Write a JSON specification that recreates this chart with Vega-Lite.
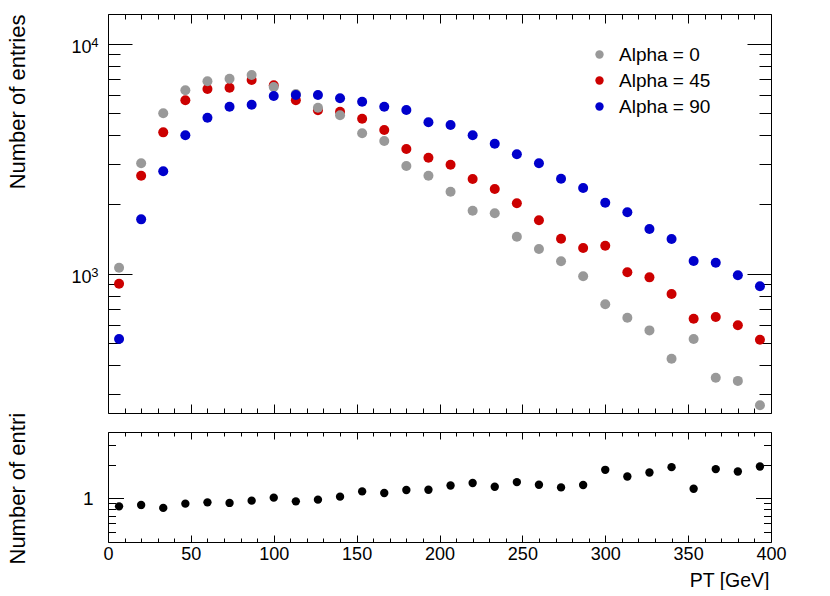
{
  "$schema": "https://vega.github.io/schema/vega-lite/v6.json",
  "autosize": {"type": "pad"},
  "padding": {"left": 5, "top": 13, "right": 0, "bottom": 0},
  "bounds": "flush",
  "spacing": 19,
  "background": "white",
  "config": {
    "view": {"stroke": null},
    "font": "Liberation Sans",
    "axis": {
      "grid": false,
      "domainColor": "black",
      "domainWidth": 1,
      "tickColor": "black",
      "tickWidth": 1,
      "labelFont": "Liberation Sans",
      "labelFontSize": 18,
      "labelColor": "black",
      "titleFont": "Liberation Sans",
      "titleColor": "black",
      "titleFontWeight": "normal"
    }
  },
  "datasets": {
    "hist": [
      {"pt": 6.67, "alpha": "Alpha = 45", "n": 905},
      {"pt": 20, "alpha": "Alpha = 45", "n": 2668},
      {"pt": 33.33, "alpha": "Alpha = 45", "n": 4117},
      {"pt": 46.67, "alpha": "Alpha = 45", "n": 5674},
      {"pt": 60, "alpha": "Alpha = 45", "n": 6353},
      {"pt": 73.33, "alpha": "Alpha = 45", "n": 6437},
      {"pt": 86.67, "alpha": "Alpha = 45", "n": 6953},
      {"pt": 100, "alpha": "Alpha = 45", "n": 6596},
      {"pt": 113.33, "alpha": "Alpha = 45", "n": 5674},
      {"pt": 126.67, "alpha": "Alpha = 45", "n": 5133},
      {"pt": 140, "alpha": "Alpha = 45", "n": 5060},
      {"pt": 153.33, "alpha": "Alpha = 45", "n": 4720},
      {"pt": 166.67, "alpha": "Alpha = 45", "n": 4213},
      {"pt": 180, "alpha": "Alpha = 45", "n": 3485},
      {"pt": 193.33, "alpha": "Alpha = 45", "n": 3194},
      {"pt": 206.67, "alpha": "Alpha = 45", "n": 2978},
      {"pt": 220, "alpha": "Alpha = 45", "n": 2580},
      {"pt": 233.33, "alpha": "Alpha = 45", "n": 2335},
      {"pt": 246.67, "alpha": "Alpha = 45", "n": 2023},
      {"pt": 260, "alpha": "Alpha = 45", "n": 1707},
      {"pt": 273.33, "alpha": "Alpha = 45", "n": 1419},
      {"pt": 286.67, "alpha": "Alpha = 45", "n": 1293},
      {"pt": 300, "alpha": "Alpha = 45", "n": 1324},
      {"pt": 313.33, "alpha": "Alpha = 45", "n": 1014},
      {"pt": 326.67, "alpha": "Alpha = 45", "n": 964},
      {"pt": 340, "alpha": "Alpha = 45", "n": 816},
      {"pt": 353.33, "alpha": "Alpha = 45", "n": 637},
      {"pt": 366.67, "alpha": "Alpha = 45", "n": 648},
      {"pt": 380, "alpha": "Alpha = 45", "n": 597},
      {"pt": 393.33, "alpha": "Alpha = 45", "n": 516},
      {"pt": 6.67, "alpha": "Alpha = 0", "n": 1062},
      {"pt": 20, "alpha": "Alpha = 0", "n": 3020},
      {"pt": 33.33, "alpha": "Alpha = 0", "n": 4980},
      {"pt": 46.67, "alpha": "Alpha = 0", "n": 6270},
      {"pt": 60, "alpha": "Alpha = 0", "n": 6865},
      {"pt": 73.33, "alpha": "Alpha = 0", "n": 7045},
      {"pt": 86.67, "alpha": "Alpha = 0", "n": 7310},
      {"pt": 100, "alpha": "Alpha = 0", "n": 6480},
      {"pt": 113.33, "alpha": "Alpha = 0", "n": 6036},
      {"pt": 126.67, "alpha": "Alpha = 0", "n": 5270},
      {"pt": 140, "alpha": "Alpha = 0", "n": 4884},
      {"pt": 153.33, "alpha": "Alpha = 0", "n": 4077},
      {"pt": 166.67, "alpha": "Alpha = 0", "n": 3775},
      {"pt": 180, "alpha": "Alpha = 0", "n": 2940},
      {"pt": 193.33, "alpha": "Alpha = 0", "n": 2668},
      {"pt": 206.67, "alpha": "Alpha = 0", "n": 2273},
      {"pt": 220, "alpha": "Alpha = 0", "n": 1879},
      {"pt": 233.33, "alpha": "Alpha = 0", "n": 1830},
      {"pt": 246.67, "alpha": "Alpha = 0", "n": 1448},
      {"pt": 260, "alpha": "Alpha = 0", "n": 1280},
      {"pt": 273.33, "alpha": "Alpha = 0", "n": 1132},
      {"pt": 286.67, "alpha": "Alpha = 0", "n": 975},
      {"pt": 300, "alpha": "Alpha = 0", "n": 736},
      {"pt": 313.33, "alpha": "Alpha = 0", "n": 644},
      {"pt": 326.67, "alpha": "Alpha = 0", "n": 567},
      {"pt": 340, "alpha": "Alpha = 0", "n": 427},
      {"pt": 353.33, "alpha": "Alpha = 0", "n": 520},
      {"pt": 366.67, "alpha": "Alpha = 0", "n": 353},
      {"pt": 380, "alpha": "Alpha = 0", "n": 342},
      {"pt": 393.33, "alpha": "Alpha = 0", "n": 268},
      {"pt": 6.67, "alpha": "Alpha = 90", "n": 520},
      {"pt": 20, "alpha": "Alpha = 90", "n": 1723},
      {"pt": 33.33, "alpha": "Alpha = 90", "n": 2788},
      {"pt": 46.67, "alpha": "Alpha = 90", "n": 3996},
      {"pt": 60, "alpha": "Alpha = 90", "n": 4767},
      {"pt": 73.33, "alpha": "Alpha = 90", "n": 5322},
      {"pt": 86.67, "alpha": "Alpha = 90", "n": 5430},
      {"pt": 100, "alpha": "Alpha = 90", "n": 5924},
      {"pt": 113.33, "alpha": "Alpha = 90", "n": 5984},
      {"pt": 126.67, "alpha": "Alpha = 90", "n": 5984},
      {"pt": 140, "alpha": "Alpha = 90", "n": 5787},
      {"pt": 153.33, "alpha": "Alpha = 90", "n": 5596},
      {"pt": 166.67, "alpha": "Alpha = 90", "n": 5322},
      {"pt": 180, "alpha": "Alpha = 90", "n": 5150},
      {"pt": 193.33, "alpha": "Alpha = 90", "n": 4552},
      {"pt": 206.67, "alpha": "Alpha = 90", "n": 4431},
      {"pt": 220, "alpha": "Alpha = 90", "n": 3996},
      {"pt": 233.33, "alpha": "Alpha = 90", "n": 3674},
      {"pt": 246.67, "alpha": "Alpha = 90", "n": 3305},
      {"pt": 260, "alpha": "Alpha = 90", "n": 3020},
      {"pt": 273.33, "alpha": "Alpha = 90", "n": 2588},
      {"pt": 286.67, "alpha": "Alpha = 90", "n": 2358},
      {"pt": 300, "alpha": "Alpha = 90", "n": 2035},
      {"pt": 313.33, "alpha": "Alpha = 90", "n": 1849},
      {"pt": 326.67, "alpha": "Alpha = 90", "n": 1564},
      {"pt": 340, "alpha": "Alpha = 90", "n": 1415},
      {"pt": 353.33, "alpha": "Alpha = 90", "n": 1136},
      {"pt": 366.67, "alpha": "Alpha = 90", "n": 1116},
      {"pt": 380, "alpha": "Alpha = 90", "n": 984},
      {"pt": 393.33, "alpha": "Alpha = 90", "n": 882}
    ],
    "ratio": [
      {"pt": 6.67, "r": 0.848},
      {"pt": 20, "r": 0.873},
      {"pt": 33.33, "r": 0.821},
      {"pt": 46.67, "r": 0.897},
      {"pt": 60, "r": 0.921},
      {"pt": 73.33, "r": 0.91},
      {"pt": 86.67, "r": 0.954},
      {"pt": 100, "r": 1.015},
      {"pt": 113.33, "r": 0.94},
      {"pt": 126.67, "r": 0.974},
      {"pt": 140, "r": 1.036},
      {"pt": 153.33, "r": 1.155},
      {"pt": 166.67, "r": 1.117},
      {"pt": 180, "r": 1.189},
      {"pt": 193.33, "r": 1.196},
      {"pt": 206.67, "r": 1.306},
      {"pt": 220, "r": 1.373},
      {"pt": 233.33, "r": 1.272},
      {"pt": 246.67, "r": 1.4},
      {"pt": 260, "r": 1.325},
      {"pt": 273.33, "r": 1.254},
      {"pt": 286.67, "r": 1.317},
      {"pt": 300, "r": 1.804},
      {"pt": 313.33, "r": 1.572},
      {"pt": 326.67, "r": 1.707},
      {"pt": 340, "r": 1.906},
      {"pt": 353.33, "r": 1.221},
      {"pt": 366.67, "r": 1.83},
      {"pt": 380, "r": 1.742},
      {"pt": 393.33, "r": 1.931}
    ]
  },
  "vconcat": [
    {
      "width": 663,
      "height": 399,
      "data": {"name": "hist"},
      "layer": [
        {
          "mark": {"type": "point", "filled": true, "size": 100, "opacity": 1},
          "encoding": {
            "x": {"field": "pt", "type": "quantitative", "scale": {"domain": [0, 400], "nice": false, "zero": false},
              "axis": {"orient": "bottom", "ticks": false, "labels": false, "title": null, "domain": true}},
            "y": {"field": "n", "type": "quantitative", "scale": {"type": "log", "domain": [248, 13460], "nice": false},
              "axis": {"orient": "left", "ticks": false, "domain": true, "values": [1000, 10000],
                "labelExpr": "'10'", "labelPadding": 17, "labelOffset": 3.5,
                "title": "Number of entries", "titleFontSize": 22, "titleAngle": 270, "titleAlign": "right",
                "titleBaseline": "alphabetic", "titleX": -84, "titleY": 0}},
            "color": {"field": "alpha", "type": "nominal",
              "scale": {"domain": ["Alpha = 0", "Alpha = 45", "Alpha = 90"], "range": ["#999999", "#cc0000", "#0000cc"]},
              "legend": {"orient": "none", "legendX": 482, "legendY": 31, "title": null, "padding": 0,
                "labelFont": "Liberation Sans", "labelFontSize": 19, "labelColor": "black", "labelOffset": 10,
                "symbolType": "circle", "symbolSize": 70, "symbolStrokeWidth": 0, "rowPadding": 6}}
          }
        },
        {
          "mark": {"type": "point", "opacity": 0},
          "encoding": {
            "x": {"field": "pt", "type": "quantitative", "scale": {"domain": [0, 400], "nice": false, "zero": false},
              "axis": {"orient": "bottom", "values": [0, 50, 100, 150, 200, 250, 300, 350, 400], "tickSize": -9, "labels": false, "domain": false, "title": null}},
            "y": {"field": "n", "type": "quantitative", "scale": {"type": "log", "domain": [248, 13460], "nice": false},
              "axis": {"orient": "left", "values": [1000, 10000], "tickSize": -24, "labels": false, "domain": false, "title": null}}
          }
        },
        {
          "mark": {"type": "point", "opacity": 0},
          "encoding": {
            "x": {"field": "pt", "type": "quantitative", "scale": {"domain": [0, 400], "nice": false, "zero": false},
              "axis": {"orient": "bottom", "values": [10, 20, 30, 40, 60, 70, 80, 90, 110, 120, 130, 140, 160, 170, 180, 190, 210, 220, 230, 240, 260, 270, 280, 290, 310, 320, 330, 340, 360, 370, 380, 390], "tickSize": -5, "labels": false, "domain": false, "title": null}},
            "y": {"field": "n", "type": "quantitative", "scale": {"type": "log", "domain": [248, 13460], "nice": false},
              "axis": {"orient": "left", "values": [300, 400, 500, 600, 700, 800, 900, 2000, 3000, 4000, 5000, 6000, 7000, 8000, 9000], "tickSize": -12, "labels": false, "domain": false, "title": null}}
          }
        },
        {
          "mark": {"type": "point", "opacity": 0},
          "encoding": {
            "x": {"field": "pt", "type": "quantitative", "scale": {"domain": [0, 400], "nice": false, "zero": false},
              "axis": {"orient": "top", "values": [0, 50, 100, 150, 200, 250, 300, 350, 400], "tickSize": -9, "labels": false, "domain": true, "title": null}},
            "y": {"field": "n", "type": "quantitative", "scale": {"type": "log", "domain": [248, 13460], "nice": false},
              "axis": {"orient": "right", "values": [1000, 10000], "tickSize": -24, "labels": false, "domain": true, "title": null}}
          }
        },
        {
          "mark": {"type": "point", "opacity": 0},
          "encoding": {
            "x": {"field": "pt", "type": "quantitative", "scale": {"domain": [0, 400], "nice": false, "zero": false},
              "axis": {"orient": "top", "values": [10, 20, 30, 40, 60, 70, 80, 90, 110, 120, 130, 140, 160, 170, 180, 190, 210, 220, 230, 240, 260, 270, 280, 290, 310, 320, 330, 340, 360, 370, 380, 390], "tickSize": -5, "labels": false, "domain": false, "title": null}},
            "y": {"field": "n", "type": "quantitative", "scale": {"type": "log", "domain": [248, 13460], "nice": false},
              "axis": {"orient": "right", "values": [300, 400, 500, 600, 700, 800, 900, 2000, 3000, 4000, 5000, 6000, 7000, 8000, 9000], "tickSize": -12, "labels": false, "domain": false, "title": null}}
          }
        },
        {
          "mark": {"type": "point", "opacity": 0},
          "encoding": {
            "x": {"field": "pt", "type": "quantitative", "scale": {"domain": [0, 400], "nice": false, "zero": false}, "axis": null},
            "y": {"field": "n", "type": "quantitative", "scale": {"type": "log", "domain": [248, 13460], "nice": false},
              "axis": {"orient": "left", "values": [1000, 10000], "ticks": false, "domain": false, "title": null,
                "labelExpr": "datum.value == 1000 ? '3' : '4'", "labelFontSize": 13, "labelPadding": 10, "labelOffset": -1}}
          }
        }
      ],
      "resolve": {"axis": {"x": "independent", "y": "independent"}}
    },
    {
      "width": 663,
      "height": 110,
      "data": {"name": "ratio"},
      "layer": [
        {
          "mark": {"type": "point", "filled": true, "size": 70, "opacity": 1, "color": "black"},
          "encoding": {
            "x": {"field": "pt", "type": "quantitative", "scale": {"domain": [0, 400], "nice": false, "zero": false},
              "axis": {"orient": "bottom", "ticks": false, "domain": true, "values": [0, 50, 100, 150, 200, 250, 300, 350, 400],
                "labelPadding": 3, "labelFlush": false,
                "title": "PT [GeV]", "titleFontSize": 19.5, "titleAnchor": "end", "titleAlign": "right",
                "titleBaseline": "alphabetic", "titleX": 661, "titleY": 44}},
            "y": {"field": "r", "type": "quantitative", "scale": {"type": "log", "domain": [0.406, 3.94], "nice": false},
              "axis": {"orient": "left", "ticks": false, "domain": true, "values": [1], "labelPadding": 15, "labelFontSize": 19,
                "title": "Number of entri", "titleFontSize": 22, "titleAngle": 270, "titleAlign": "left",
                "titleBaseline": "alphabetic", "titleX": -84, "titleY": 132}}
          }
        },
        {
          "mark": {"type": "point", "opacity": 0},
          "encoding": {
            "x": {"field": "pt", "type": "quantitative", "scale": {"domain": [0, 400], "nice": false, "zero": false},
              "axis": {"orient": "bottom", "values": [0, 50, 100, 150, 200, 250, 300, 350, 400], "tickSize": -7, "labels": false, "domain": false, "title": null}},
            "y": {"field": "r", "type": "quantitative", "scale": {"type": "log", "domain": [0.406, 3.94], "nice": false},
              "axis": {"orient": "left", "values": [1], "tickSize": -15.5, "labels": false, "domain": false, "title": null}}
          }
        },
        {
          "mark": {"type": "point", "opacity": 0},
          "encoding": {
            "x": {"field": "pt", "type": "quantitative", "scale": {"domain": [0, 400], "nice": false, "zero": false},
              "axis": {"orient": "bottom", "values": [10, 20, 30, 40, 60, 70, 80, 90, 110, 120, 130, 140, 160, 170, 180, 190, 210, 220, 230, 240, 260, 270, 280, 290, 310, 320, 330, 340, 360, 370, 380, 390], "tickSize": -4, "labels": false, "domain": false, "title": null}},
            "y": {"field": "r", "type": "quantitative", "scale": {"type": "log", "domain": [0.406, 3.94], "nice": false},
              "axis": {"orient": "left", "values": [0.5, 0.6, 0.7, 0.8, 0.9, 2, 3], "tickSize": -7.5, "labels": false, "domain": false, "title": null}}
          }
        },
        {
          "mark": {"type": "point", "opacity": 0},
          "encoding": {
            "x": {"field": "pt", "type": "quantitative", "scale": {"domain": [0, 400], "nice": false, "zero": false},
              "axis": {"orient": "top", "values": [0, 50, 100, 150, 200, 250, 300, 350, 400], "tickSize": -7, "labels": false, "domain": true, "title": null}},
            "y": {"field": "r", "type": "quantitative", "scale": {"type": "log", "domain": [0.406, 3.94], "nice": false},
              "axis": {"orient": "right", "values": [1], "tickSize": -15.5, "labels": false, "domain": true, "title": null}}
          }
        },
        {
          "mark": {"type": "point", "opacity": 0},
          "encoding": {
            "x": {"field": "pt", "type": "quantitative", "scale": {"domain": [0, 400], "nice": false, "zero": false},
              "axis": {"orient": "top", "values": [10, 20, 30, 40, 60, 70, 80, 90, 110, 120, 130, 140, 160, 170, 180, 190, 210, 220, 230, 240, 260, 270, 280, 290, 310, 320, 330, 340, 360, 370, 380, 390], "tickSize": -4, "labels": false, "domain": false, "title": null}},
            "y": {"field": "r", "type": "quantitative", "scale": {"type": "log", "domain": [0.406, 3.94], "nice": false},
              "axis": {"orient": "right", "values": [0.5, 0.6, 0.7, 0.8, 0.9, 2, 3], "tickSize": -7.5, "labels": false, "domain": false, "title": null}}
          }
        }
      ],
      "resolve": {"axis": {"x": "independent", "y": "independent"}}
    }
  ]
}
